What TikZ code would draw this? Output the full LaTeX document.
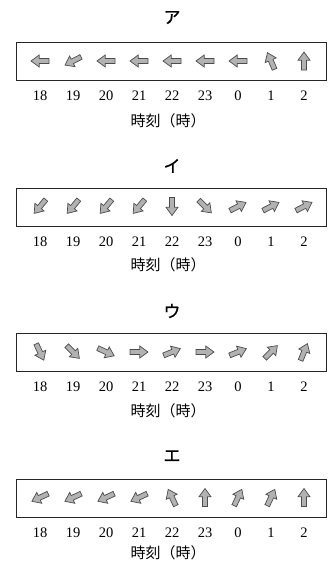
\documentclass[tikz,border=0pt]{standalone}
\usepackage{fontspec}
\setmainfont{Liberation Serif}
\newfontfamily\jpfont{Noto Sans CJK JP}
\newfontfamily\jptitlefont[FakeBold=0.8]{Noto Sans CJK JP}
\tikzset{
  windfill/.style={fill=black!30, draw=black!70, line width=0.7pt, line join=miter},
  windarrow/.pic={
    \draw[windfill] (-9,-2.5) -- (0.8,-2.5) -- (0.8,-6) -- (9,0)
      -- (0.8,6) -- (0.8,2.5) -- (-9,2.5) -- cycle;
  },
  panel/.style={draw=black!85, line width=1.2pt, inner sep=0pt,
    minimum width=310.5pt, minimum height=38pt, anchor=north west},
  hour/.style={font=\fontsize{14.5}{14.5}\selectfont, inner sep=0pt},
  axislabel/.style={font=\jpfont\fontsize{15}{15}\selectfont, inner sep=0pt},
  paneltitle/.style={font=\jptitlefont\fontsize{17}{17}\selectfont, inner sep=0pt},
}
\begin{document}
\begin{tikzpicture}[x=1pt,y=1pt]
\useasboundingbox (0,0) rectangle (329,-562);
% name / title / title y / panel top / label y / wind directions from 18h to 2h
\foreach \nm/\ttl/\ty/\tp/\ly/\dirs in {
  a/ア/17.5/42/121/{180,207,180,180,180,180,180,113,90},
  i/イ/166/187.5/265/{230,230,230,230,270,315,27,27,27},
  u/ウ/311/333/411/{295,315,335,0,22,0,22,45,68},
  e/エ/456/478.5/552.5/{205,205,205,205,115,90,65,65,90}}
{
  \node[paneltitle] (title-\nm) at (172,-\ty) {\ttl};
  \node[panel] (box-\nm) at (15.5,-\tp) {};
  \foreach \d [count=\i from 0] in \dirs {
    \pgfmathtruncatemacro\h{mod(18+\i,24)}
    \pic[rotate=\d] at (40+33*\i,-\tp-19) {windarrow};
    \node[hour] (hour-\nm-\i) at (40+33*\i,-\tp-54) {\h};
  }
  \node[axislabel] (label-\nm) at (168,-\ly) {時刻（時）};
}
\end{tikzpicture}
\end{document}
